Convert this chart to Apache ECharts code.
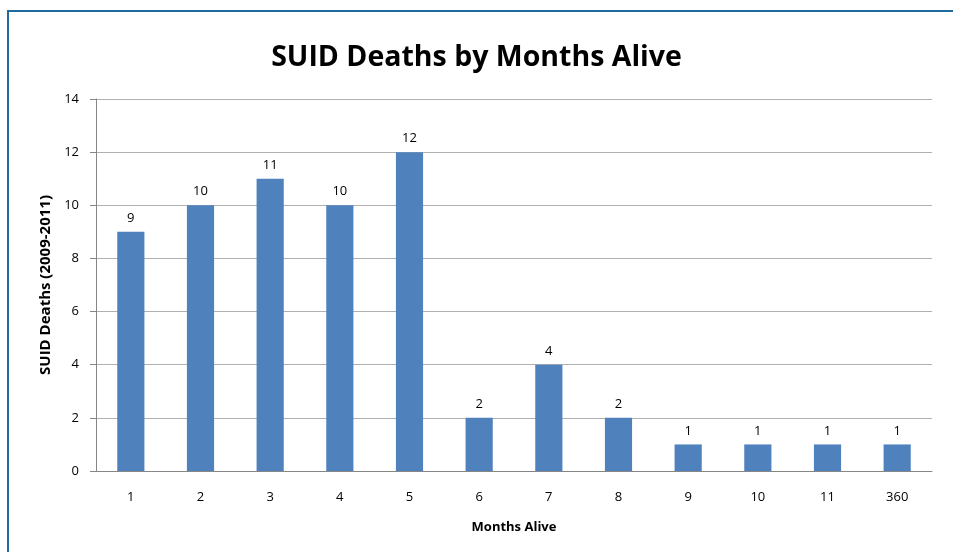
<!DOCTYPE html>
<html><head><meta charset="utf-8">
<script src="https://cdn.jsdelivr.net/npm/echarts@6/dist/echarts.min.js"></script>
<style>
html,body{margin:0;padding:0;background:#fff;}
#frame{position:absolute;left:7px;top:10px;width:1000px;height:600px;border:2px solid #1F6B9E;box-sizing:border-box;}
#c{position:absolute;left:0;top:0;width:953px;height:552px;}
</style></head>
<body>
<div id="frame"></div>
<div id="c"></div>
<script>
const categories = ['1','2','3','4','5','6','7','8','9','10','11','360'];
const deaths = [9,10,11,10,12,2,4,2,1,1,1,1];
const yTicks = [0,2,4,6,8,10,12,14];

const chart = echarts.init(document.getElementById('c'), null, {renderer:'canvas'});
const font = '"Open Sans", Lato, sans-serif';
chart.setOption({
  animation:false,
  title:{text:'SUID Deaths by Months Alive',left:'center',top:38,
    textStyle:{fontFamily:font,fontSize:28.5,fontWeight:'bold',color:'#000'}},
  grid:{left:96,right:21,top:99,bottom:81,containLabel:false},
  xAxis:{type:'category',data:categories,
    name:'Months Alive',nameLocation:'middle',nameGap:50,
    nameTextStyle:{fontFamily:font,fontSize:13,fontWeight:'bold',color:'#000'},
    axisLine:{lineStyle:{color:'#868686',width:1}},
    axisTick:{show:false},
    axisLabel:{fontFamily:font,fontSize:13,color:'#000',margin:20}},
  yAxis:{type:'value',min:yTicks[0],max:yTicks[yTicks.length-1],interval:2,
    name:'SUID Deaths (2009-2011)',nameLocation:'middle',nameGap:43,
    nameTextStyle:{fontFamily:font,fontSize:15,fontWeight:'bold',color:'#000'},
    axisLine:{show:true,lineStyle:{color:'#868686'}},
    axisTick:{show:true,length:6,lineStyle:{color:'#868686'}},
    axisLabel:{fontFamily:font,fontSize:13,color:'#000',margin:17},
    splitLine:{lineStyle:{color:'#b0b0b0',width:1}}},
  series:[{type:'bar',data:deaths,barWidth:'39%',
    itemStyle:{color:'#4F81BD'},
    label:{show:true,position:'top',distance:7,fontFamily:font,fontSize:13,color:'#000'}}]
});
</script>
</body></html>
